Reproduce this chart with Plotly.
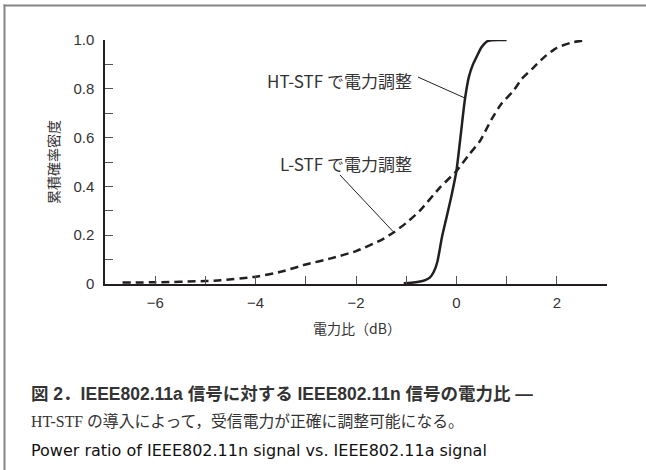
import plotly.graph_objects as go

# ---- data ----
ht_x = [-1.05, -0.9, -0.75, -0.62, -0.53, -0.45, -0.38, -0.29, -0.2, -0.1, 0.0, 0.08, 0.17, 0.25, 0.33, 0.4, 0.5, 0.6, 0.7, 0.85, 1.0]
ht_y = [0.003, 0.005, 0.009, 0.016, 0.026, 0.05, 0.09, 0.19, 0.27, 0.36, 0.463, 0.6, 0.757, 0.85, 0.9, 0.93, 0.97, 0.993, 0.999, 1.0, 1.0]

l_x = [-6.65, -6.0, -5.0, -4.7, -4.0, -3.5, -3.0, -2.5, -2.0, -1.5, -1.26, -1.0, -0.73, -0.33, 0.0, 0.25, 0.47, 0.7, 0.9, 1.13, 1.3, 1.53, 1.75, 2.0, 2.3, 2.6]
l_y = [0.006, 0.007, 0.012, 0.015, 0.03, 0.05, 0.08, 0.105, 0.135, 0.18, 0.21, 0.25, 0.30, 0.395, 0.463, 0.53, 0.586, 0.675, 0.74, 0.79, 0.84, 0.886, 0.93, 0.968, 0.99, 1.0]

x_tickvals = [-6, -4, -2, 0, 2]
x_ticktext = ["−6", "−4", "−2", "0", "2"]
y_tickvals = [0, 0.2, 0.4, 0.6, 0.8, 1.0]
y_ticktext = ["0", "0.2", "0.4", "0.6", "0.8", "1.0"]

ht_label = "HT-STF で電力調整"
l_label = "L-STF で電力調整"
x_title = "電力比（dB）"
y_title = "累積確率密度"
caption1 = "図 2．IEEE802.11a 信号に対する IEEE802.11n 信号の電力比 —"
caption2 = "HT-STF の導入によって，受信電力が正確に調整可能になる。"
caption3 = "Power ratio of IEEE802.11n signal vs. IEEE802.11a signal"

# ---- layout geometry ----
W, H = 646, 470
L, R, T, B = 105, 39, 40, 186
PW, PH = W - L - R, H - T - B

def px(xp):
    return (xp - L) / PW

def py(yp):
    return (H - B - yp) / PH

INK = "#231f20"
TXT = "#333333"
SANS = "Liberation Sans, Arial, Noto Sans CJK JP, sans-serif"
CJK = "Noto Sans CJK JP, Liberation Sans, sans-serif"

fig = go.Figure()
fig.add_trace(go.Scatter(x=l_x, y=l_y, mode="lines", line=dict(color=INK, width=2.5, dash="8px,5px", shape="spline", smoothing=0.6), hoverinfo="skip"))
fig.add_trace(go.Scatter(x=ht_x, y=ht_y, mode="lines", line=dict(color=INK, width=2.5, shape="spline", smoothing=0.6), hoverinfo="skip"))

# leader lines
fig.add_shape(type="line", x0=-0.765, y0=0.848, x1=0.171, y1=0.762, line=dict(color=INK, width=1))
fig.add_shape(type="line", x0=-2.32, y0=0.447, x1=-1.257, y1=0.214, line=dict(color=INK, width=1))

# page border (top and left edges)
fig.add_shape(type="line", xref="paper", yref="paper", x0=px(3.5), y0=py(5.5), x1=px(W + 40), y1=py(5.5),
              line=dict(color="#858585", width=2), layer="above")
fig.add_shape(type="line", xref="paper", yref="paper", x0=px(4.5), y0=py(4.5), x1=px(4.5), y1=py(H + 40),
              line=dict(color="#858585", width=2), layer="above")

fig.add_annotation(x=-0.845, y=0.835, text=ht_label, showarrow=False, xanchor="right", yanchor="middle",
                   font=dict(family=CJK, size=17, color=TXT))
fig.add_annotation(x=-0.845, y=0.495, text=l_label, showarrow=False, xanchor="right", yanchor="middle",
                   font=dict(family=CJK, size=17, color=TXT))

fig.add_annotation(xref="paper", yref="paper", x=px(29), y=py(394), text="<b>" + caption1 + "</b>", showarrow=False,
                   xanchor="left", yanchor="middle", font=dict(family=SANS, size=17.5, color=TXT))
fig.add_annotation(xref="paper", yref="paper", x=px(29), y=py(421), text=caption2, showarrow=False,
                   xanchor="left", yanchor="middle", font=dict(family="Liberation Serif, Noto Sans CJK JP, serif", size=15.8, color=TXT))
fig.add_annotation(xref="paper", yref="paper", x=px(29), y=py(450), text=caption3, showarrow=False,
                   xanchor="left", yanchor="middle", font=dict(family="DejaVu Sans, Liberation Sans, sans-serif", size=16, color="#111111"))

fig.add_annotation(xref="paper", yref="paper", x=px(357), y=py(328), text=x_title, showarrow=False,
                   xanchor="center", yanchor="middle", font=dict(family=CJK, size=14, color=TXT))
fig.add_annotation(xref="paper", yref="paper", x=px(53), y=py(162), text=y_title, showarrow=False, textangle=-90,
                   xanchor="center", yanchor="middle", font=dict(family=CJK, size=14, color=TXT))

fig.update_layout(
    width=W, height=H,
    margin=dict(l=L, r=R, t=T, b=B, pad=0),
    paper_bgcolor="white", plot_bgcolor="white",
    showlegend=False,
    xaxis=dict(range=[-7, 3], showgrid=False, zeroline=False, showline=True, linecolor=INK, linewidth=1.5,
               tickmode="array", tickvals=x_tickvals, ticktext=x_ticktext, ticks="inside", ticklen=8,
               tickcolor="#555555", tickwidth=1, ticklabelstandoff=4,
               tickfont=dict(family=SANS, size=15, color=TXT),
               minor=dict(dtick=1, tick0=0, ticks="inside", ticklen=8, tickcolor="#555555", tickwidth=1)),
    yaxis=dict(range=[0, 1], showgrid=False, zeroline=False, showline=True, linecolor=INK, linewidth=1.5,
               tickmode="array", tickvals=y_tickvals, ticktext=y_ticktext, ticks="inside", ticklen=8,
               tickcolor="#555555", tickwidth=1, ticklabelstandoff=6,
               tickfont=dict(family=SANS, size=15, color=TXT),
               minor=dict(dtick=0.1, tick0=0, ticks="inside", ticklen=8, tickcolor="#555555", tickwidth=1)),
)

fig.write_html("out.html", config={"displayModeBar": False},
               post_script="document.body.style.margin='0';document.body.style.overflow='hidden';")
